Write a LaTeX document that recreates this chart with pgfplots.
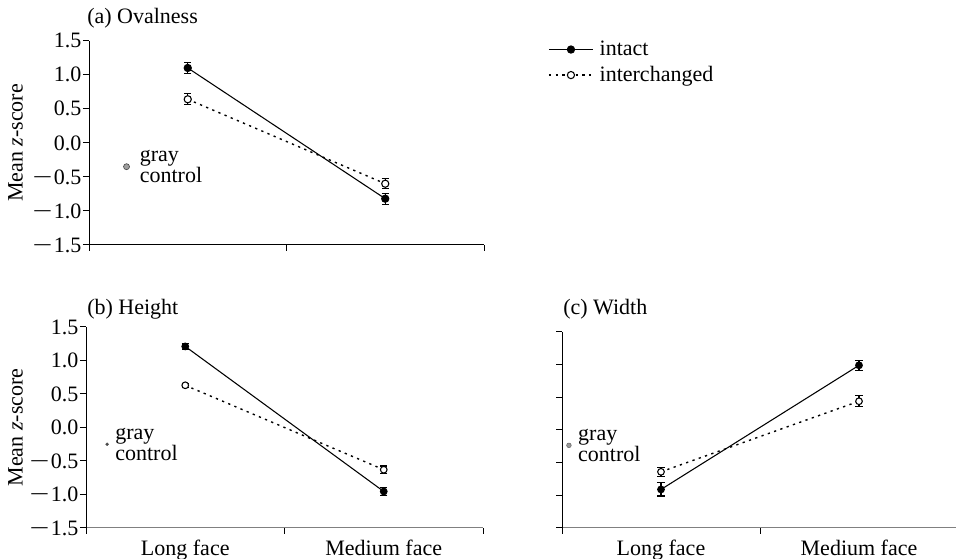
\documentclass[border=0pt]{standalone}
\usepackage{fontspec}
\setmainfont{Liberation Serif}
\usepackage{graphicx}
\usepackage{pgfplots}
\pgfplotsset{compat=1.18}
\newcommand\mn{\scalebox{1.6}[1]{−}\kern1pt}

\pgfplotsset{
 facestyle/.style={
  scale only axis,
  xmin=0, xmax=2, ymin=-1.5, ymax=1.5,
  axis x line*=bottom, axis y line*=left,
  axis line style={-, line width=0.75pt, black},
  xtick={0,1,2}, xticklabels={},
  ytick={-1.5,-1,-0.5,0,0.5,1,1.5},
  yticklabels={\mn1.5,\mn1.0,\mn0.5,0.0,0.5,1.0,1.5},
  tick align=outside,
  major tick length=4.5pt,
  tick style={line width=0.75pt, black},
  clip=false,
  yticklabel style={inner sep=1pt},
 },
 ebars/.style={
   error bars/y dir=both, error bars/y explicit,
   error bars/error mark=|,
   error bars/error bar style={line width=0.8pt, solid},
   error bars/error mark options={line width=0.8pt, mark size=2.8pt, solid}},
 intact/.style={black, line width=0.8pt, mark=*, mark size=2.7pt,
   mark options={solid, fill=black}, ebars},
 interch/.style={black, line width=1.05pt, dash pattern=on 1.7pt off 3.3pt, mark=*, mark size=2.5pt,
   mark options={solid, fill=white, line width=0.8pt}, ebars},
 xlabs/.style={extra x ticks={0.5,1.5}, extra x tick labels={Long face, Medium face},
   extra x tick style={tick style={draw=none}, tick label style={yshift=1pt}}},
}

\begin{document}
\fontsize{16.5pt}{18pt}\selectfont
\begin{tikzpicture}[font=\fontsize{16.5pt}{18pt}\selectfont]
\useasboundingbox (0,0) rectangle (717pt,419.25pt);

% (a) Ovalness
\begin{axis}[facestyle, at={(66.75pt,235.5pt)}, anchor=south west,
  width=296.25pt, height=153.2pt,
  ylabel={Mean \textit{z}-score},
  ylabel style={at={(axis description cs:-0.1857,0.5)}, anchor=center},
  legend style={at={(axis description cs:1.162,1.015)}, anchor=north west,
    draw=none, fill=none, inner sep=0pt, row sep=1.5pt,
    font=\fontsize{16.5pt}{18pt}\selectfont,
    nodes={inner xsep=4.5pt}},
  legend cell align=left,
  legend image code/.code={\draw[mark repeat=2,mark phase=2,#1]
    plot coordinates {(0pt,0pt) (16.5pt,0pt) (33pt,0pt)};}]
\addplot[intact] coordinates {(0.5,1.10) +- (0,0.08) (1.5,-0.82) +- (0,0.08)};
\addlegendentry{intact}
\addplot[interch, mark size=2.7pt] coordinates {(0.5,0.64) +- (0,0.08) (1.5,-0.60) +- (0,0.07)};
\addlegendentry{interchanged}
\addplot[only marks, mark=*, mark size=2.25pt, mark options={fill=gray!75, draw=black!70, line width=0.5pt}, forget plot]
  coordinates {(0.19,-0.35)};
\node[anchor=west, align=left, inner sep=0pt, font=\fontsize{16.5pt}{14.5pt}\selectfont, xshift=9.75pt]
  at (axis cs:0.19,-0.35) {gray\\control};
\node[anchor=base west, inner sep=0pt, xshift=-1.5pt, yshift=13pt] at (rel axis cs:0,1) {(a) Ovalness};
\end{axis}

% (b) Height
\begin{axis}[facestyle, xlabs, at={(64.5pt,23.25pt)}, anchor=south west,
  width=297.75pt, height=150.75pt,
  x axis line style={draw=gray},
  ylabel={Mean \textit{z}-score},
  ylabel style={at={(axis description cs:-0.1776,0.5)}, anchor=center}]
\addplot[intact, mark size=2.5pt] coordinates {(0.5,1.21) +- (0,0.04) (1.5,-0.955) +- (0,0.06)};
\addplot[interch] coordinates {(0.5,0.63) +- (0,0.03) (1.5,-0.63) +- (0,0.055)};
\addplot[only marks, mark=*, mark size=1.1pt, mark options={fill=gray!60!black, draw=black!70, line width=0.3pt}]
  coordinates {(0.106,-0.25)};
\node[anchor=west, align=left, inner sep=0pt, font=\fontsize{16.5pt}{14.5pt}\selectfont, xshift=6pt]
  at (axis cs:0.106,-0.25) {gray\\control};
\node[anchor=base west, inner sep=0pt, xshift=0.75pt, yshift=9pt] at (rel axis cs:0,1) {(b) Height};
\end{axis}

% (c) Width
\begin{axis}[facestyle, xlabs, at={(421.5pt,23.25pt)}, anchor=south west,
  width=297pt, height=147pt,
  x axis line style={draw=gray},
  yticklabels={}]
\addplot[intact, mark size=2.5pt] coordinates {(0.5,-0.91) +- (0,0.10) (1.5,0.99) +- (0,0.075)};
\addplot[interch] coordinates {(0.5,-0.64) +- (0,0.07) (1.5,0.44) +- (0,0.085)};
\addplot[only marks, mark=*, mark size=1.75pt, mark options={fill=gray!80, draw=black!60, line width=0.4pt}]
  coordinates {(0.035,-0.235)};
\node[anchor=west, align=left, inner sep=0pt, font=\fontsize{16.5pt}{14.5pt}\selectfont, xshift=6.75pt]
  at (axis cs:0.035,-0.235) {gray\\control};
\node[anchor=base west, inner sep=0pt, xshift=0.75pt, yshift=12.75pt] at (rel axis cs:0,1) {(c) Width};
\end{axis}
\end{tikzpicture}
\end{document}
